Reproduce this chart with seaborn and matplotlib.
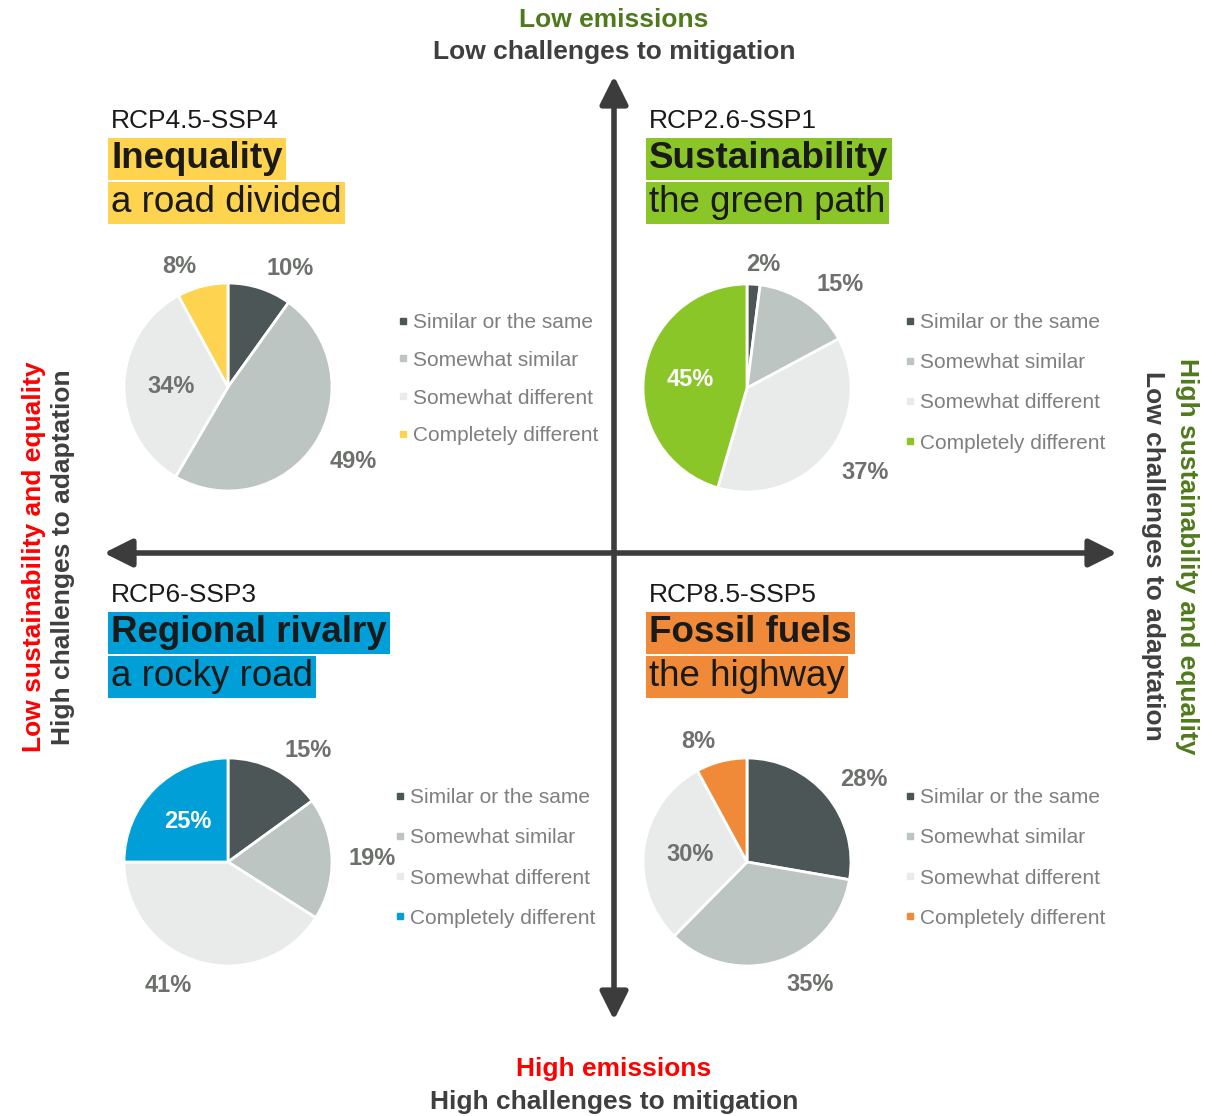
import numpy as np
import matplotlib.pyplot as plt
import seaborn as sns
from matplotlib.lines import Line2D

# DATA
categories = ["Similar or the same", "Somewhat similar",
              "Somewhat different", "Completely different"]
scenarios = ["RCP4.5-SSP4", "RCP2.6-SSP1", "RCP6-SSP3", "RCP8.5-SSP5"]
titles    = ["Inequality", "Sustainability", "Regional rivalry", "Fossil fuels"]
subtitles = ["a road divided", "the green path", "a rocky road", "the highway"]
shares_ssp4 = [10, 49, 34, 8]
shares_ssp1 = [2, 15, 37, 45]
shares_ssp3 = [15, 19, 41, 25]
shares_ssp5 = [28, 35, 30, 8]
shares = [shares_ssp4, shares_ssp1, shares_ssp3, shares_ssp5]

# STYLE / LAYOUT
sns.set_theme(style="white")
plt.rcParams['font.family'] = ['Liberation Sans', 'DejaVu Sans']

W, H = 1223, 1116
greys   = ['#4d5657', '#bcc5c1', '#e8ebea']
accents = ['#fdd34f', '#8bc629', '#009fd8', '#f08a38']
lbl_grey = '#6d706d'
dark_txt = '#3f3f3f'
arrow_c  = '#3c3c3c'

pie_centers = [(228, 387), (747, 388), (228, 862), (747, 862)]
title_x     = [111, 649, 111, 649]
title_y     = [121, 121, 595, 595]
legend_x    = [403, 910, 400, 910]
legend_y    = [322, 322, 797, 797]
legend_gap  = [0.9, 1.02, 1.02, 1.02]
inside_idx  = [2, 3, 3, 2]
R = 104  # pie radius in px

fig = plt.figure(figsize=(W/100, H/100), dpi=100)
bg = fig.add_axes([0, 0, 1, 1])
bg.set_xlim(0, W); bg.set_ylim(H, 0); bg.axis('off')
renderer = fig.canvas.get_renderer()

# axis arrows
arr = dict(arrowstyle='<|-|>,head_length=1.7,head_width=0.85', mutation_scale=10,
           lw=4, color=arrow_c, shrinkA=0, shrinkB=0)
bg.annotate('', xy=(614, 76), xytext=(614, 1020), arrowprops=arr)
bg.annotate('', xy=(104, 553), xytext=(1117, 553), arrowprops=arr)

# axis descriptions
ax_kw = dict(fontsize=19, fontweight='bold', ha='center', va='center')
bg.text(614, 20, "Low emissions", color='#4f7a1c', **ax_kw)
bg.text(614, 52, "Low challenges to mitigation", color=dark_txt, **ax_kw)
bg.text(614, 1069, "High emissions", color='#ff0000', **ax_kw)
bg.text(614, 1102, "High challenges to mitigation", color=dark_txt, **ax_kw)
bg.text(34, 557, "Low sustainability and equality", color='#ff0000', rotation=90, **ax_kw)
bg.text(63, 557, "High challenges to adaptation", color=dark_txt, rotation=90, **ax_kw)
bg.text(1187, 556, "High sustainability and equality", color='#4f7a1c', rotation=270, **ax_kw)
bg.text(1153, 556, "Low challenges to adaptation", color=dark_txt, rotation=270, **ax_kw)

for i in range(4):
    cx, cy = pie_centers[i]
    colors = greys + [accents[i]]

    # headings
    bg.text(title_x[i], title_y[i], scenarios[i], fontsize=19, color='#1a1a1a',
            ha='left', va='center')
    bg.text(title_x[i], title_y[i] + 38, titles[i], fontsize=26.5, fontweight='bold',
            color='#1a1a1a', ha='left', va='center',
            bbox=dict(boxstyle='square,pad=0.09', fc=accents[i], ec='none'))
    bg.text(title_x[i], title_y[i] + 82, subtitles[i], fontsize=26.5,
            color='#1a1a1a', ha='left', va='center',
            bbox=dict(boxstyle='square,pad=0.09', fc=accents[i], ec='none'))

    # pie
    half = 150
    ax = fig.add_axes([(cx - half)/W, 1 - (cy + half)/H, 2*half/W, 2*half/H])
    lim = half / R
    wedges, _ = ax.pie(shares[i], colors=colors, startangle=90, counterclock=False,
                       radius=1, wedgeprops=dict(edgecolor='white', linewidth=2))
    ax.set_xlim(-lim, lim); ax.set_ylim(-lim, lim); ax.set_aspect('equal')
    ax.axis('off')

    for j, (w, v) in enumerate(zip(wedges, shares[i])):
        mid = np.deg2rad((w.theta1 + w.theta2) / 2)
        ux, uy = np.cos(mid), np.sin(mid)
        if j == inside_idx[i]:
            c = 'white' if j == 3 else lbl_grey
            ax.text(0.55*ux, 0.55*uy, f"{v}%", ha='center', va='center',
                    fontsize=17, fontweight='bold', color=c)
        else:
            # outside label: box pushed off the rim, Excel-style
            px, py = 1.13*ux, 1.13*uy
            t = ax.text(px, py, f"{v}%", ha='center', va='center', fontsize=17,
                        fontweight='bold', color=lbl_grey, clip_on=False)
            bb = t.get_window_extent(renderer)
            ox = np.clip(ux/0.15, -1, 1) * (bb.width + 6) / 2 / R
            oy = np.clip(uy/0.15, -1, 1) * (bb.height - 6) / 2 / R - 2 / R
            t.set_position((px + ox, py + oy))

    handles = [Line2D([], [], marker='s', ls='none', markersize=5, color=col)
               for col in colors]
    ax.legend(handles, categories, loc='upper left',
              bbox_to_anchor=(legend_x[i] - 6, legend_y[i] - 9),
              bbox_transform=bg.transData, frameon=False, fontsize=15,
              labelcolor='#7f7f7f', handlelength=0.6, handletextpad=0.15,
              labelspacing=legend_gap[i], borderpad=0, borderaxespad=0)

plt.savefig("out.png", dpi=100)
